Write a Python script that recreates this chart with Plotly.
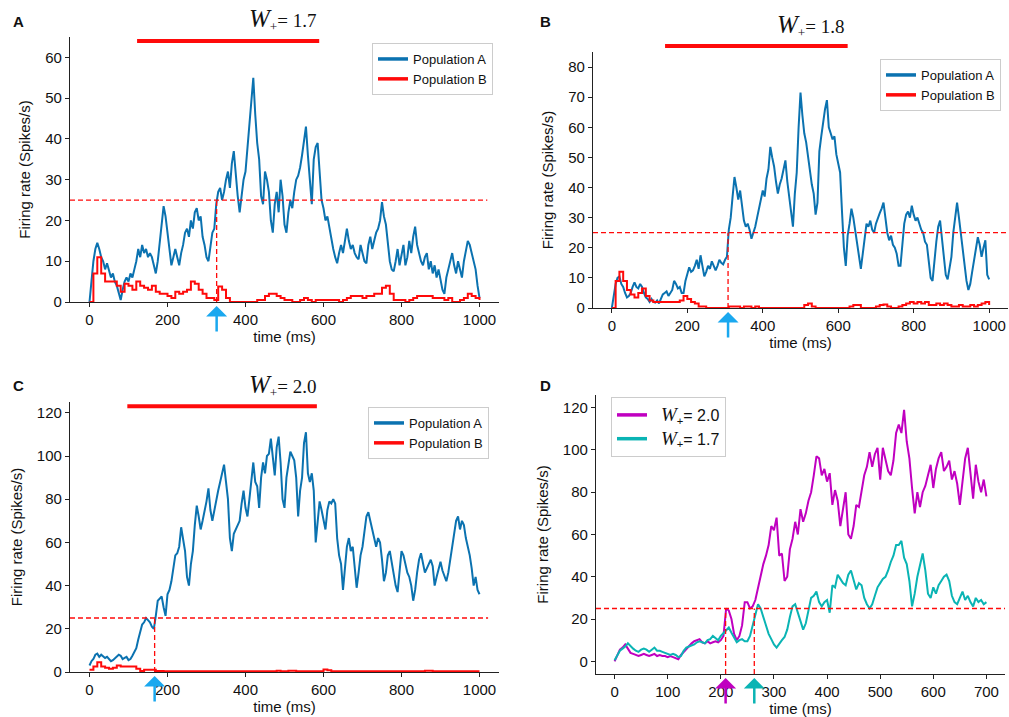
import numpy as np
import plotly.graph_objects as go

# ---------------- data ----------------
STEP_FINE = 5    # ms between samples of the population-A / panel-D traces
STEP_RED = 10    # ms between samples of the population-B traces

a_popA = [0, 6, 10, 13, 14.5, 13, 11, 10, 8, 9.5, 8, 6, 7, 5, 4, 2, 0.5, 3, 5, 6,
          5, 7, 6, 8, 10, 13, 11, 14, 12, 13, 11, 12, 11, 9, 7, 10, 15, 19, 23.5, 21,
          17, 14, 9, 11, 13, 11, 9, 12, 14, 17, 18, 16, 20, 18, 22, 23, 20, 21, 16, 14,
          11, 10, 13, 17, 18, 24, 27, 28, 25, 27, 30, 32, 28, 34, 37, 31, 26, 22, 26, 30,
          32, 38, 44, 50, 55, 46, 39, 35, 26, 24, 32, 30, 27, 20, 17, 24, 27, 22, 30, 26,
          19, 17, 22, 25, 23, 27, 30, 31, 33, 36, 40, 43, 36, 30, 24, 35, 38, 39, 33, 25,
          23, 20, 21, 18, 16, 13, 11, 9.5, 12, 14, 12, 15, 18, 15, 13, 14, 12, 11, 10.5, 14,
          12, 10, 9.5, 14, 16, 13, 15, 17, 18, 20, 24.5, 21, 19, 14, 10, 8, 7.5, 10, 13, 9,
          12, 14, 9, 11, 15, 12, 16, 18.5, 14, 12, 10, 9, 11, 12, 8, 10, 7, 9, 6, 8,
          5, 3, 2, 6, 8, 10, 12, 9, 7, 10, 8, 6, 10, 13, 15, 14, 12, 10, 8, 4,
          1]
a_popB = [0, 7, 11, 7, 5, 5, 5, 4, 2.5, 4.5,
          4, 3, 5, 4, 3.5, 3, 4, 2.5, 2, 2,
          1.5, 1, 2.5, 2, 2.5, 3, 5, 4.5, 3, 2,
          1, 1, 0.5, 3.8, 3, 1, 0, 0, 0, 0,
          0, 0, 0, 0.5, 0.5, 1.5, 2, 2, 1.5, 1,
          0.5, 0.5, 0, 0, 0.5, 1, 0.5, 0, 0.5, 0.5,
          0.5, 0.5, 0.5, 0.5, 0, 0.5, 1, 1.5, 1.5, 1.5,
          1, 1.5, 1.5, 2, 2, 3.5, 4, 2, 0.5, 0.5,
          0.5, 0, 0.5, 1, 1.5, 1.5, 1.5, 1.5, 1, 1,
          1, 0.5, 1, 0, 0, 0.5, 1, 2, 1.5, 1,
          0.5]

b_popA = [0, 4, 8, 10, 10.5, 8, 7, 5, 3.5, 4, 5, 7, 8.5, 7, 6.5, 8, 7, 5, 3.5, 3,
          2, 3, 2, 1.8, 2.5, 1.5, 3, 4.5, 5, 5.5, 4, 5, 6, 9, 8, 6.5, 7, 5, 5, 9,
          11.5, 13.5, 12, 12.5, 14, 16, 13, 17.5, 14, 10.5, 12, 14, 13, 15.5, 14, 12.5, 14, 16, 15, 14.5,
          16, 17, 26, 30, 37, 43.5, 40, 36, 39, 33, 29, 27, 28, 26, 23, 25, 27, 30, 33, 36,
          39, 37, 43, 46, 53.5, 50, 47, 42, 38, 41, 43, 46, 49, 42, 37, 32, 27, 38, 45, 60,
          71.5, 64, 58, 55, 50, 45, 41, 38, 31, 35, 52, 57, 62, 66, 69, 60, 58, 56, 57, 51,
          48, 45, 32, 20, 14, 24, 28, 33, 30, 26, 21, 17, 13, 18, 24, 28, 27, 29, 26, 25,
          28, 30, 31.5, 33, 35, 30, 25, 22.5, 24, 21, 20, 18, 14, 14, 22, 28, 31, 32, 30, 34,
          31, 29, 30, 28, 26, 25, 22, 21, 15, 10, 9, 16, 22, 27, 29, 23, 18, 11, 9.5, 13,
          17, 25, 30, 35, 30, 25, 18, 14, 9, 6, 8, 12, 16, 20, 23.5, 21, 17, 20, 22.5, 11,
          9.5]
b_popB = [0, 9, 12, 9, 6, 4.5, 3.5, 5, 6.5, 4,
          2.5, 2, 2, 2, 2, 2, 2, 2, 2.5, 4,
          3, 2, 1.5, 0.5, 0.5, 0, 0, 0, 0, 0,
          0, 0.5, 0.5, 0.5, 0, 0.5, 0.5, 0, 0.5, 0,
          0, 0, 0, 0, 0, 0, 0, 0, 0, 0,
          0, 1, 1.5, 0.5, 0, 0, 0, 0, 0, 0,
          0, 0, 0, 0.5, 1, 1, 0, 0, 0, 0,
          0.5, 1, 1.2, 0.5, 0, 0, 0.5, 1, 1.5, 2,
          1.5, 2, 1.5, 2, 1, 1, 1.5, 1, 1.5, 1,
          0.5, 0.5, 1, 0.5, 0.5, 1, 0.5, 1, 1.5, 2,
          1]

c_popA = [3, 5, 6, 8, 8.5, 7, 8, 7, 6.5, 7, 6, 5, 5.5, 6.5, 7, 8, 7.5, 6, 6.5, 7,
          5.5, 6, 7.5, 9, 11, 15, 19, 22, 23, 25, 24, 23, 21, 20, 26, 33, 34, 35, 30, 26,
          36, 38, 42, 48, 54, 55, 58, 67, 62, 56, 44, 40, 50, 56, 68, 77, 72, 66, 70, 74,
          79, 85, 75, 70, 75, 80, 84, 88, 92, 96, 88, 80, 62, 56, 64, 66, 68, 70, 78, 84,
          76, 72, 80, 90, 97, 88, 86, 76, 90, 97, 92, 100, 101, 108, 100, 91, 104, 109, 97, 80,
          76, 90, 96, 102, 100, 98, 90, 72, 84, 90, 106, 111, 92, 88, 92, 84, 60, 68, 79, 75,
          70, 66, 75, 79, 78, 80, 78, 62, 54, 50, 38, 48, 58, 62, 56, 58, 48, 39, 46, 54,
          58, 64, 72, 74, 70, 66, 62, 58, 62, 60, 52, 42, 46, 54, 56, 50, 44, 40, 37, 48,
          56, 54, 50, 46, 44, 40, 33, 38, 46, 52, 55, 50, 46, 48, 50, 52, 49, 40, 44, 48,
          51, 47, 44, 42, 46, 52, 58, 64, 70, 72, 66, 70, 68, 62, 58, 54, 48, 40, 44, 38,
          36]
c_popB = [1, 2.5, 4.5, 2.5, 2, 1.5, 2, 3, 2.5, 2.5,
          2.5, 2.5, 1.5, 0.5, 1, 1, 1, 0.5, 0.5, 0.3,
          0.3, 0.3, 0.3, 0.3, 0.3, 0.3, 0.3, 0.3, 0.3, 0.3,
          0.3, 0.3, 0.3, 0.3, 0.3, 0.3, 0.3, 0.3, 0.3, 0.3,
          0.3, 0.3, 0.3, 0.3, 0.3, 0.3, 0.3, 0.3, 0.6, 0.3,
          0.3, 0.6, 0.6, 0.3, 0.3, 0.3, 0.3, 0.3, 0.3, 0.3,
          1.2, 0.8, 0.3, 0.3, 0.3, 0.3, 0.3, 0.3, 0.3, 0.3,
          0.3, 0.3, 0.3, 0.3, 0.3, 0.3, 0.3, 0.3, 0.3, 0.3,
          0.3, 0.3, 0.3, 0.3, 0.3, 0.3, 0.6, 0.6, 0.3, 0.3,
          0.3, 0.3, 0.3, 0.3, 0.3, 0.3, 0.3, 0.3, 0.3, 0.3,
          0.3]

d_w20 = [0, 3, 5.5, 6.5, 8, 6, 4, 3.5, 3, 2.5, 3, 3.5, 3, 2.5, 3, 3.5, 2.5, 3, 2.5, 2.5,
         2, 2.5, 2, 1.5, 1, 3, 4.5, 6, 7, 8.5, 9.5, 10, 10.5, 9, 8.5, 9.5, 8.5, 9, 9.5, 9,
         10, 12, 25, 24, 20, 13, 10, 12, 17, 28, 28, 25, 26, 29, 35, 40, 46, 50, 55, 64,
         62, 68, 50, 51, 38, 40, 53, 58, 66, 60, 72, 66, 70, 76, 80, 88, 97, 96, 88, 91,
         85, 89, 74, 81, 76, 64, 72, 80, 60, 58, 64, 74, 73, 80, 88, 92, 99, 92, 98, 101,
         86, 101, 96, 90, 88, 95, 108, 112, 108, 119, 104, 96, 82, 70, 80, 73, 80, 83, 88, 93,
         82, 91, 96, 99, 90, 92, 95, 86, 90, 84, 74, 86, 96, 101, 90, 77, 93, 85, 80, 86,
         78]
d_w17 = [0.5, 3, 5, 6, 7, 8.5, 7, 6, 5, 4.5, 5.5, 6, 5.5, 4.5, 5.5, 6.5, 5, 5, 4.5, 4,
         3.5, 3, 3.5, 3, 2, 2.5, 5, 6.5, 7, 7.5, 8, 9, 9.5, 9, 8.5, 10, 10.5, 12, 11, 10,
         12, 13.5, 15, 16, 13.5, 11, 9, 10, 10.5, 9.5, 9.5, 12, 17, 23, 27, 25, 21, 17, 13, 10.5,
         8, 6.5, 8.5, 10, 11.5, 15, 21, 26, 27, 23, 18, 15, 18, 25, 30, 31, 33, 28, 26, 28,
         29, 23, 36, 35, 41, 39, 37, 36, 41, 43, 39, 34, 37, 36, 30, 27, 25, 27, 31, 35,
         37, 39, 40, 43, 47, 50, 55, 55, 57, 49, 46, 38, 26, 32, 40, 46, 51, 43, 32, 30,
         35, 32, 36, 38, 40, 41, 38, 31, 28, 27, 30, 33, 29, 31, 28, 26, 30, 28, 29, 27,
         28]

THRESHOLD = 25                      # spikes/s
cross_times = [326, 308, 167]       # threshold crossing (ms) for panels A, B, C
d_cross = [209, 263]                # panel D crossings: w+=2.0, w+=1.7
stim_on = [122, 141, 97]            # red stimulus bar start (ms) for A, B, C
stim_off = [589, 625, 583]          # red stimulus bar end (ms)
w_labels = ["1.7", "1.8", "2.0"]
d_labels = ["2.0", "1.7"]

# ---------------- styling ----------------
W, H = 1009, 717
BLUE = "#0b72b0"
RED = "#ff0a0a"
MAG = "#c000c0"
CYAN = "#0ab4b4"
ARROW_BLUE = "#1aa8ef"
AXC = "#222222"
FONT = "Liberation Sans"

def tarr(vals, step):
    return np.arange(len(vals)) * step

# plot areas in pixels: (left, right, top, bottom)
boxes = {
    1: (70, 499, 37, 302),
    2: (593, 1008, 52, 308),
    3: (70, 499, 402, 672),
    4: (596, 1005, 395, 674),
}
xranges = {1: [-50, 1050], 2: [-50, 1050], 3: [-50, 1050], 4: [-35, 735]}
yranges = {1: [0, 65], 2: [0, 85], 3: [0, 125], 4: [-6, 126]}
ydticks = {1: 10, 2: 10, 3: 20, 4: 20}

fig = go.Figure()

def ax_name(i, kind):
    return kind + ("" if i == 1 else str(i))

def legname(i):
    return "legend" if i == 1 else f"legend{i}"

panels = [(a_popA, a_popB), (b_popA, b_popB), (c_popA, c_popB)]
thr_end = [1020, 1050, 1022]
for i, (pa, pb) in enumerate(panels, start=1):
    xa, ya = ax_name(i, "x"), ax_name(i, "y")
    fig.add_trace(go.Scatter(x=tarr(pa, STEP_FINE), y=pa, mode="lines",
                             line=dict(color=BLUE, width=2), xaxis=xa, yaxis=ya,
                             showlegend=False, hoverinfo="skip"))
    fig.add_trace(go.Scatter(x=tarr(pb, STEP_RED), y=pb, mode="lines",
                             line=dict(color=RED, width=2, shape="hv"), xaxis=xa, yaxis=ya,
                             showlegend=False, hoverinfo="skip"))
    # threshold
    fig.add_trace(go.Scatter(x=[xranges[i][0], thr_end[i - 1]], y=[THRESHOLD, THRESHOLD],
                             mode="lines", line=dict(color=RED, width=1.3, dash="5px,3px"),
                             xaxis=xa, yaxis=ya, showlegend=False, hoverinfo="skip"))
    ct = cross_times[i - 1]
    fig.add_trace(go.Scatter(x=[ct, ct], y=[0, THRESHOLD], mode="lines",
                             line=dict(color=RED, width=1.3, dash="5px,3px"),
                             xaxis=xa, yaxis=ya, showlegend=False, hoverinfo="skip"))
    # legend samples
    for name, col in (("Population A", BLUE), ("Population B", RED)):
        fig.add_trace(go.Scatter(x=[None], y=[None], mode="lines", name=name,
                                 line=dict(color=col, width=3.5), xaxis=xa, yaxis=ya,
                                 legend=legname(i), showlegend=True))

# panel D
xa, ya = "x4", "y4"
fig.add_trace(go.Scatter(x=tarr(d_w20, STEP_FINE), y=d_w20, mode="lines",
                         line=dict(color=MAG, width=2), xaxis=xa, yaxis=ya,
                         showlegend=False, hoverinfo="skip"))
fig.add_trace(go.Scatter(x=tarr(d_w17, STEP_FINE), y=d_w17, mode="lines",
                         line=dict(color=CYAN, width=2), xaxis=xa, yaxis=ya,
                         showlegend=False, hoverinfo="skip"))
fig.add_trace(go.Scatter(x=xranges[4], y=[THRESHOLD, THRESHOLD], mode="lines",
                         line=dict(color=RED, width=1.3, dash="5px,3px"),
                         xaxis=xa, yaxis=ya, showlegend=False, hoverinfo="skip"))
for ct in d_cross:
    fig.add_trace(go.Scatter(x=[ct, ct], y=[yranges[4][0], THRESHOLD], mode="lines",
                             line=dict(color=RED, width=1.3, dash="5px,3px"),
                             xaxis=xa, yaxis=ya, showlegend=False, hoverinfo="skip"))
for lab, col in zip(d_labels, (MAG, CYAN)):
    fig.add_trace(go.Scatter(x=[None], y=[None], mode="lines",
                             name=f"  <span style='font-family:Liberation Serif;font-size:19px'><i>W</i></span><sub>+</sub>= {lab}",
                             line=dict(color=col, width=3.5), xaxis=xa, yaxis=ya,
                             legend="legend4", showlegend=True))

# ---------------- layout ----------------
layout = dict(width=W, height=H, margin=dict(l=0, r=0, t=0, b=0, autoexpand=False),
              paper_bgcolor="white", plot_bgcolor="white",
              font=dict(family=FONT, size=15, color="#111"))

common = dict(showline=True, linecolor=AXC, linewidth=1.3, ticks="outside", ticklen=4,
              tickwidth=1.2, tickcolor=AXC, showgrid=False, zeroline=False,
              automargin=False,
              tickfont=dict(size=15, family=FONT, color="#111"))

for i, (l, r, t, b) in boxes.items():
    xdom = [l / W, r / W]
    ydom = [1 - b / H, 1 - t / H]
    xa = dict(common, domain=xdom, range=xranges[i], anchor=ax_name(i, "y"),
              dtick=200 if i < 4 else 100, tick0=0,
              title=dict(text="time (ms)", font=dict(size=15), standoff=4))
    ya = dict(common, domain=ydom, range=yranges[i], anchor=ax_name(i, "x"),
              dtick=ydticks[i], tick0=0,
              title=dict(text="Firing rate (Spikes/s)", font=dict(size=15), standoff=10))
    layout["xaxis" if i == 1 else f"xaxis{i}"] = xa
    layout["yaxis" if i == 1 else f"yaxis{i}"] = ya

leg_common = dict(bgcolor="white", bordercolor="#cccccc", borderwidth=1,
                  font=dict(size=13, family=FONT, color="#111"), itemwidth=30,
                  yanchor="top", tracegroupgap=0)
# legend anchor points (x pixel, anchor side, y top pixel)
leg_pos = {1: (493, "right", 43), 2: (1001, "right", 59), 3: (489, "right", 407),
           4: (611, "left", 397)}
for i, (px, side, py) in leg_pos.items():
    d = dict(leg_common, x=px / W, xanchor=side, y=1 - py / H)
    if i == 4:
        d["font"] = dict(size=16, family=FONT, color="#111")
    layout[legname(i)] = d

fig.update_layout(**layout)

annotations = []
shapes = []
# panel letters
for letter, (px, py) in zip("ABCD", [(18, 22), (545, 22), (18, 385), (545, 385)]):
    annotations.append(dict(text=f"<b>{letter}</b>", x=px / W, y=1 - py / H, xref="paper",
                            yref="paper", showarrow=False, font=dict(size=15, family=FONT,
                            color="#111"), xanchor="center", yanchor="middle"))
# panel titles
title_pos = [(283, 20), (811, 25), (283, 385)]
for lab, (px, py) in zip(w_labels, title_pos):
    annotations.append(dict(text=f"<span style='font-size:25px'><i>W</i></span><sub>+</sub>= {lab}",
                            x=px / W, y=1 - py / H,
                            xref="paper", yref="paper", showarrow=False,
                            font=dict(size=19, family="Liberation Serif", color="#111"),
                            xanchor="center", yanchor="middle"))

bar_level = [64, 87, 123]   # data-y level of the stimulus bar
for i in range(1, 4):
    xr, yr = xranges[i], yranges[i]
    x0 = (stim_on[i - 1] - xr[0]) / (xr[1] - xr[0])
    x1 = (stim_off[i - 1] - xr[0]) / (xr[1] - xr[0])
    yd = (bar_level[i - 1] - yr[0]) / (yr[1] - yr[0])
    shapes.append(dict(type="line", xref=f"{ax_name(i,'x')} domain", yref=f"{ax_name(i,'y')} domain",
                       x0=x0, x1=x1, y0=yd, y1=yd, line=dict(color=RED, width=4)))

# arrows under the axes
def arrow(i, t, color):
    l, r, top, b = boxes[i]
    return dict(text="", x=t, xref=ax_name(i, "x"), y=-4 / (b - top),
                yref=f"{ax_name(i,'y')} domain", showarrow=True, ax=0, ay=27,
                arrowhead=1, arrowsize=1.4, arrowwidth=2.5, arrowcolor=color)

for i in range(1, 4):
    annotations.append(arrow(i, cross_times[i - 1], ARROW_BLUE))
annotations.append(arrow(4, d_cross[0], MAG))
annotations.append(arrow(4, d_cross[1], CYAN))

fig.update_layout(annotations=annotations, shapes=shapes)
# remove the browser's default 8px page margin so the figure fills the window exactly
fig.write_html("out.html", config={"displayModeBar": False},
               post_script="document.body.style.margin='0';document.body.style.overflow='hidden';")
